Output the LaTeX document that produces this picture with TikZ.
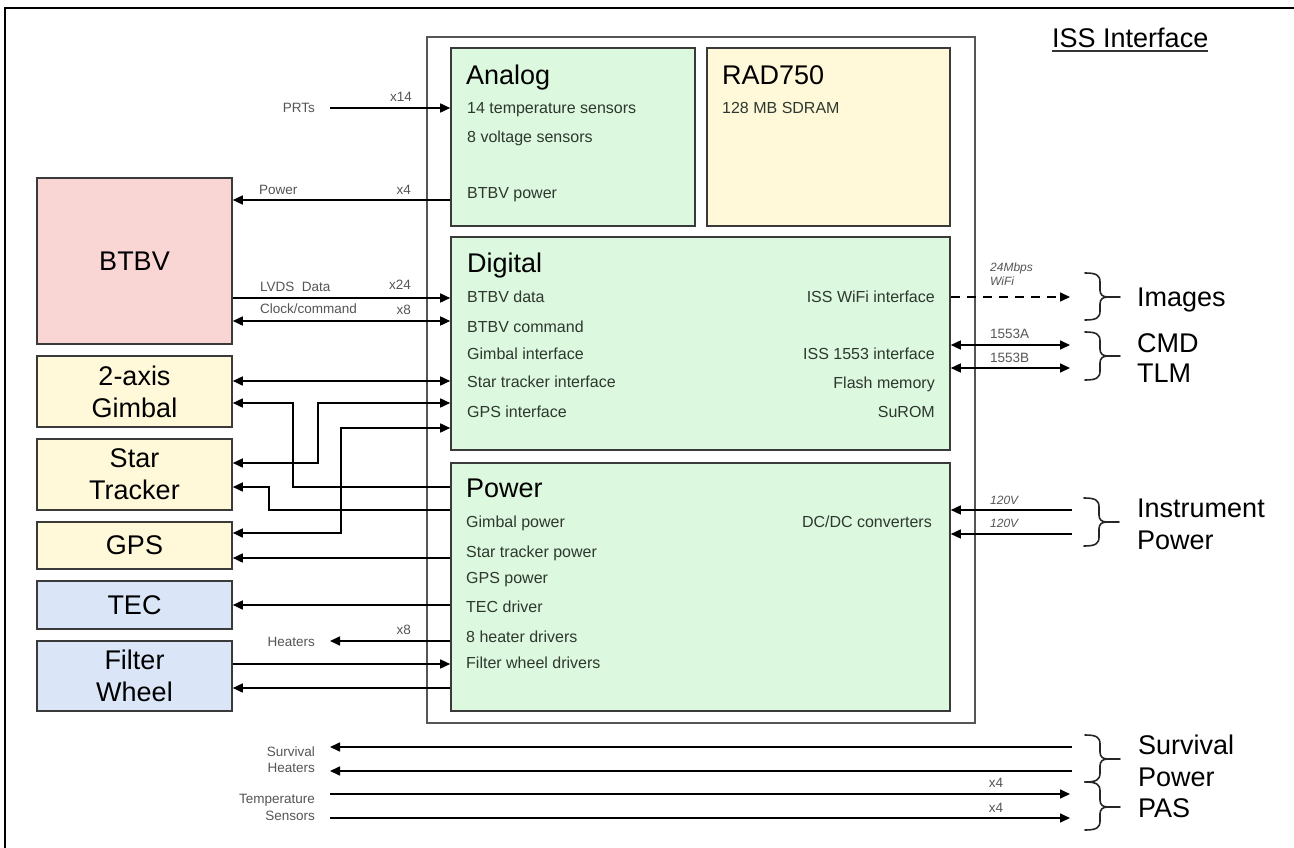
\documentclass[tikz,border=0pt]{standalone}
\usepackage{fontspec}
\setmainfont{Liberation Sans}
\usetikzlibrary{arrows.meta,calc}
\definecolor{gfill}{HTML}{DCF8DF}
\definecolor{yfill}{HTML}{FFF9D9}
\definecolor{pfill}{HTML}{F9D6D3}
\definecolor{bfill}{HTML}{DAE6F8}
\definecolor{bordc}{HTML}{3A3A3A}
\definecolor{mainc}{HTML}{555555}
\definecolor{txtc}{HTML}{2E382E}
\definecolor{lblc}{HTML}{555555}
\newcommand{\mybrace}[4]{%
  \draw[bracestyle] (#1,#2) .. controls ({#1+11},#2) and ({#1+15},{#2+2}) .. ({#1+15},{#2+9})
    -- ({#1+15},{#3-7}) .. controls ({#1+15},{#3-2}) and ({#1+18},#3) .. ({#1+23},#3) -- ({#1+35},#3);
  \draw[bracestyle] ({#1+23},#3) .. controls ({#1+18},#3) and ({#1+15},{#3+2}) .. ({#1+15},{#3+7})
    -- ({#1+15},{#4-9}) .. controls ({#1+15},{#4-2}) and ({#1+11},#4) .. (#1,#4);
}
\tikzset{
  blk/.style={draw=bordc, line width=1.6pt, inner sep=0pt, align=center,
    font=\fontsize{27}{32}\selectfont},
  conn/.style={line width=1.6pt, draw=black},
  arr/.style={conn, -{Triangle[length=10pt,width=9pt]}},
  darr/.style={conn, {Triangle[length=10pt,width=9pt]}-{Triangle[length=10pt,width=9pt]}},
  intxt/.style={anchor=west, inner sep=0pt, text height=11.5pt, text depth=0pt,
    font=\fontsize{16}{19}\selectfont, text=txtc},
  intxtr/.style={intxt, anchor=east},
  ttl/.style={anchor=west, inner sep=0pt, text height=19.5pt, text depth=0pt,
    font=\fontsize{27}{32}\selectfont},
  lbl/.style={inner sep=0pt, text height=9.7pt, text depth=0pt,
    font=\fontsize{13.5}{15}\selectfont, text=lblc},
  itlbl/.style={lbl, text height=8.6pt, font=\fontsize{12}{14}\selectfont\itshape},
  bracestyle/.style={line width=1.6pt, line cap=round, draw=black!85},
}
\begin{document}
\begin{tikzpicture}[x=1pt,y=-1pt]
\useasboundingbox (0,0) rectangle (1294,848);
\fill[white] (0,0) rectangle (1294,848);
% outer frame (only left and top visible)
\draw[line width=1.3pt] (5,848) -- (5,8) -- (1294,8);

% main box
\node[draw=mainc, line width=1.5pt, minimum width=548pt, minimum height=686pt, inner sep=0pt] (main) at (701,380) {};

% inner blocks
\node[blk, fill=gfill, minimum width=244pt, minimum height=178pt] (analog) at (573,137) {};
\node[blk, fill=yfill, minimum width=243pt, minimum height=178pt] (rad) at (828.5,137) {};
\node[blk, fill=gfill, minimum width=499pt, minimum height=213pt] (digital) at (700.5,343.5) {};
\node[blk, fill=gfill, minimum width=499pt, minimum height=248pt] (power) at (700.5,587) {};

% left blocks
\node[blk, fill=pfill, minimum width=195pt, minimum height=166pt] (btbv) at (134.5,261) {BTBV};
\node[blk, fill=yfill, minimum width=195pt, minimum height=71pt] (gimbal) at (134.5,391.5) {2-axis\\Gimbal};
\node[blk, fill=yfill, minimum width=195pt, minimum height=71pt] (star) at (134.5,474.5) {Star\\Tracker};
\node[blk, fill=yfill, minimum width=195pt, minimum height=47pt] (gps) at (134.5,545.5) {GPS};
\node[blk, fill=bfill, minimum width=195pt, minimum height=48pt] (tec) at (134.5,605) {TEC};
\node[blk, fill=bfill, minimum width=195pt, minimum height=70pt] (filter) at (134.5,676) {Filter\\Wheel};

% texts in Analog
\node[ttl] (antitle) at (466,75) {Analog};
\node[intxt] (an1) at (467,108) {14 temperature sensors};
\node[intxt] (an2) at (467,137) {8 voltage sensors};
\node[intxt] (an3) at (467,193) {BTBV power};
% RAD750
\node[ttl] (radtitle) at (722,75) {RAD750};
\node[intxt] (rad1) at (722,108) {128 MB SDRAM};
% Digital
\node[ttl] (digtitle) at (467,263) {Digital};
\node[intxt] (dg1) at (467,297) {BTBV data};
\node[intxt] (dg2) at (467,327) {BTBV command};
\node[intxt] (dg3) at (467,354) {Gimbal interface};
\node[intxt] (dg4) at (467,382) {Star tracker interface};
\node[intxt] (dg5) at (467,412) {GPS interface};
\node[intxtr] (dr1) at (935,297) {ISS WiFi interface};
\node[intxtr] (dr2) at (935,354) {ISS 1553 interface};
\node[intxtr] (dr3) at (935,383) {Flash memory};
\node[intxtr] (dr4) at (935,412) {SuROM};
% Power
\node[ttl] (pwtitle) at (466,488) {Power};
\node[intxt] (pw1) at (466,522) {Gimbal power};
\node[intxt] (pw2) at (466,552) {Star tracker power};
\node[intxt] (pw3) at (466,578) {GPS power};
\node[intxt] (pw4) at (466,607) {TEC driver};
\node[intxt] (pw5) at (466,637) {8 heater drivers};
\node[intxt] (pw6) at (466,663) {Filter wheel drivers};
\node[intxtr] (pwr1) at (932,522) {DC/DC converters};

% ISS Interface title
\node[ttl] (issif) at (1052,38) {ISS Interface};
\draw[line width=1.2pt, draw=black!80] ($(issif.south west)+(0,3)$) -- ($(issif.south east)+(0,3)$);

% free-end coordinates
\coordinate (prt) at (330,108);
\coordinate (heat) at (330,641);
\coordinate (img) at (1070,297);
\coordinate (ca) at (1070,345);
\coordinate (cb) at (1070,368);
\coordinate (ipa) at (1072,510);
\coordinate (ipb) at (1072,534);
\coordinate (spa) at (1072,747);
\coordinate (spb) at (1072,771);
\coordinate (sha) at (330,747);
\coordinate (shb) at (330,771);
\coordinate (tsa) at (330,794);
\coordinate (tsb) at (330,818);
\coordinate (pasa) at (1070,794);
\coordinate (pasb) at (1070,818);

% left connectors
\draw[arr] (prt) -- (analog.west |- prt);
\draw[arr] (analog.west |- 0,200) -- (btbv.east |- 0,200);
\draw[arr] (btbv.east |- 0,298) -- (digital.west |- 0,298);
\draw[darr] (btbv.east |- 0,321) -- (digital.west |- 0,321);
\draw[darr] (gimbal.east |- 0,381) -- (digital.west |- 0,381);
\draw[arr] (power.west |- 0,487) -| (293,403) -- (gimbal.east |- 0,403);
\draw[darr] (digital.west |- 0,403) -| (318,463) -- (star.east |- 0,463);
\draw[darr] (digital.west |- 0,428) -| (341,533) -- (gps.east |- 0,533);
\draw[arr] (power.west |- 0,510) -| (269,487) -- (star.east |- 0,487);
\draw[arr] (power.west |- 0,558) -- (gps.east |- 0,558);
\draw[arr] (power.west |- 0,605) -- (tec.east |- 0,605);
\draw[arr] (power.west |- heat) -- (heat);
\draw[arr] (filter.east |- 0,664) -- (power.west |- 0,664);
\draw[arr] (power.west |- 0,688) -- (filter.east |- 0,688);

% right connectors
\draw[arr, dash pattern=on 9pt off 7pt] (digital.east |- img) -- (img);
\draw[darr] (digital.east |- ca) -- (ca);
\draw[darr] (digital.east |- cb) -- (cb);
\draw[arr] (ipa) -- (power.east |- ipa);
\draw[arr] (ipb) -- (power.east |- ipb);

% bottom connectors
\draw[arr] (spa) -- (sha);
\draw[arr] (spb) -- (shb);
\draw[arr] (tsa) -- (pasa);
\draw[arr] (tsb) -- (pasb);

% small labels
\node[lbl, anchor=east] (lprt) at (315,108) {PRTs};
\node[lbl, anchor=east] (lx14) at (412,97) {x14};
\node[lbl, anchor=west] (lpow) at (259,190) {Power};
\node[lbl, anchor=east] (lx4) at (411,190) {x4};
\node[lbl, anchor=west] (llvds) at (260,287) {LVDS\ \ Data};
\node[lbl, anchor=east] (lx24) at (411,285) {x24};
\node[lbl, anchor=west] (lclk) at (260,309) {Clock/command};
\node[lbl, anchor=east] (lx8) at (411,310) {x8};
\node[lbl, anchor=east] (lheat) at (315,642) {Heaters};
\node[lbl, anchor=east] (lx8b) at (411,630) {x8};
\node[lbl, anchor=east] (lsurv) at (315,752) {Survival};
\node[lbl, anchor=east] (lsheat) at (315,768) {Heaters};
\node[lbl, anchor=east] (ltemp) at (315,799) {Temperature};
\node[lbl, anchor=east] (lsens) at (315,816) {Sensors};
\node[lbl] (lx4a) at (996,783) {x4};
\node[lbl] (lx4b) at (996,808) {x4};
\node[lbl, anchor=west] (l1553a) at (990,334) {1553A};
\node[lbl, anchor=west] (l1553b) at (990,358) {1553B};
\node[itlbl, anchor=west] (lmbps) at (990,267) {24Mbps};
\node[itlbl, anchor=west] (lwifi) at (990,281) {WiFi};
\node[itlbl, anchor=west] (l120a) at (990,500) {120V};
\node[itlbl, anchor=west] (l120b) at (990,523) {120V};

% braces
\mybrace{1085}{273}{297}{320}
\mybrace{1085}{332}{356}{380}
\mybrace{1084}{498}{522}{546}
\mybrace{1085}{735}{759}{782}
\mybrace{1085}{782}{807}{830}

% right labels
\node[ttl] (rimg) at (1137,297) {Images};
\node[ttl] (rcmd) at (1137,343) {CMD};
\node[ttl] (rtlm) at (1137,373) {TLM};
\node[ttl] (rinst) at (1137,508) {Instrument};
\node[ttl] (rpow) at (1137,540) {Power};
\node[ttl] (rsurv) at (1138,745) {Survival};
\node[ttl] (rspow) at (1138,777) {Power};
\node[ttl] (rpas) at (1138,808) {PAS};
\end{tikzpicture}
\end{document}
